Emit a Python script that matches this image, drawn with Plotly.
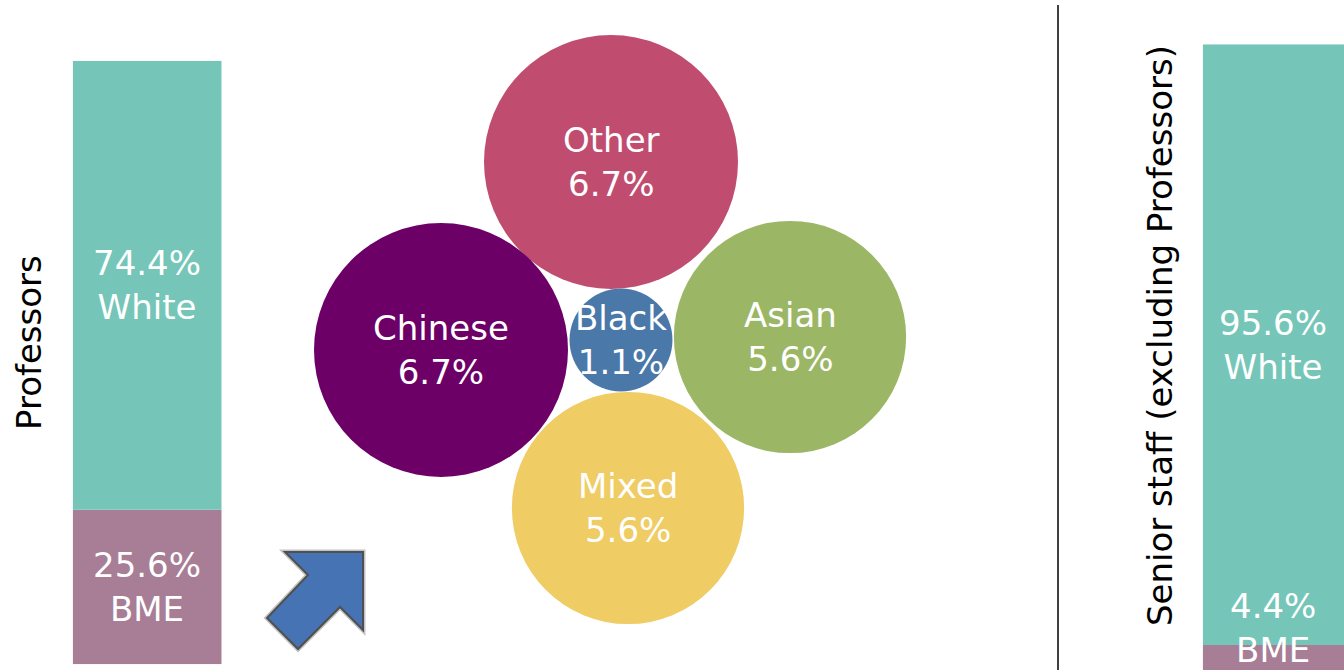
import plotly.graph_objects as go

# Ethnicity split of each staff group (percent)
groups = ["Professors", "Senior staff (excluding Professors)"]
white_pct = [74.4, 95.6]
bme_pct = [25.6, 4.4]

# BME professors broken down by ethnic group (percent of all professors)
bme_groups = ["Other", "Chinese", "Black", "Asian", "Mixed"]
bme_breakdown = [6.7, 6.7, 1.1, 5.6, 5.6]

# Packed-bubble layout (canvas pixels)
bubble_x = [611, 441, 621, 790, 628]
bubble_y = [162, 350, 340, 337, 508]
bubble_colors = ["#C04C6F", "#6C0066", "#4A78A9", "#9BB766", "#EFCC64"]

W, H = 1344, 670
TEAL = "#75C6B8"
MAUVE = "#A87D96"
FONT = "DejaVu Sans"
LBL = 34

fig = go.Figure()

# --- bubbles (area proportional to share) ---
max_diam = 254
fig.add_trace(go.Scatter(
    x=bubble_x, y=bubble_y, mode="markers",
    marker=dict(size=bme_breakdown, sizemode="area",
                sizeref=2.0 * max(bme_breakdown) / max_diam ** 2,
                color=bubble_colors, opacity=1, line=dict(width=0)),
    hoverinfo="skip", showlegend=False,
    xaxis="x", yaxis="y",
))

# --- stacked bars ---
for i, (ax, ay) in enumerate([("x2", "y2"), ("x3", "y3")]):
    fig.add_trace(go.Bar(x=[0], y=[bme_pct[i]], base=[0], width=[1],
                         marker=dict(color=MAUVE, line=dict(width=0)),
                         hoverinfo="skip", showlegend=False, xaxis=ax, yaxis=ay))
    fig.add_trace(go.Bar(x=[0], y=[white_pct[i]], base=[bme_pct[i]], width=[1],
                         marker=dict(color=TEAL, line=dict(width=0)),
                         hoverinfo="skip", showlegend=False, xaxis=ax, yaxis=ay))

senior_ymin = (672.6 - H) / 6.283

annotations = []
lbl_font = dict(family=FONT, size=LBL, color="#FFFFFF")

# Bubble labels
for g, v, bx, by in zip(bme_groups, bme_breakdown, bubble_x, bubble_y):
    annotations.append(dict(xref="x", yref="y", x=bx, y=by,
                            text=f"{g}<br>{v}%", showarrow=False, font=lbl_font))

# Professors bar labels, centred in each segment
annotations.append(dict(xref="x2", yref="y2", x=0, y=bme_pct[0] + white_pct[0] / 2,
                        text=f"{white_pct[0]}%<br>White", showarrow=False, font=lbl_font))
annotations.append(dict(xref="x2", yref="y2", x=0, y=bme_pct[0] / 2,
                        text=f"{bme_pct[0]}%<br>BME", showarrow=False, font=lbl_font))
# Senior staff bar labels
annotations.append(dict(xref="x3", yref="y3", x=0, y=bme_pct[1] + white_pct[1] / 2,
                        text=f"{white_pct[1]}%<br>White", showarrow=False, font=lbl_font))
annotations.append(dict(xref="x3", yref="y3", x=0, y=senior_ymin, yanchor="bottom", yshift=-2,
                        text=f"{bme_pct[1]}%<br>BME", showarrow=False, font=lbl_font))

# Group titles (rotated)
annotations.append(dict(xref="x", yref="y", x=29, y=343, text=groups[0], textangle=-90,
                        showarrow=False, font=dict(family=FONT, size=LBL, color="#000000")))
annotations.append(dict(xref="x", yref="y", x=1160, y=336, text=groups[1], textangle=-90,
                        showarrow=False, font=dict(family=FONT, size=LBL, color="#000000")))

shapes = [
    # divider between the two groups
    dict(type="line", xref="x", yref="y", x0=1058, x1=1058, y0=5, y1=H,
         line=dict(color="#000000", width=1.5)),
    # soft shadow under the arrow
    dict(type="path", xref="x", yref="y",
         path="M 285 552 L 363 552 L 363 630 L 340 607 L 298 649 L 267 618 L 308 575 Z",
         fillcolor="rgba(0,0,0,0)", line=dict(color="rgba(80,80,80,0.35)", width=5)),
    # arrow pointing up-right towards the breakdown
    dict(type="path", xref="x", yref="y",
         path="M 285 552 L 363 552 L 363 630 L 340 607 L 298 649 L 267 618 L 308 575 Z",
         fillcolor="#4573B3", line=dict(color="#505050", width=2)),
]

hidden = dict(visible=False, showgrid=False, zeroline=False, fixedrange=True)

fig.update_layout(
    width=W, height=H,
    margin=dict(l=0, r=0, t=0, b=0),
    paper_bgcolor="#FFFFFF", plot_bgcolor="rgba(0,0,0,0)",
    barmode="overlay",
    showlegend=False,
    xaxis=dict(domain=[0, 1], range=[0, W], **hidden),
    yaxis=dict(domain=[0, 1], range=[H, 0], **hidden),
    xaxis2=dict(domain=[72.7 / W, 221.7 / W], range=[-0.5, 0.5], anchor="y2", **hidden),
    yaxis2=dict(domain=[(H - 664.3) / H, (H - 60.7) / H], range=[0, 100], anchor="x2", **hidden),
    xaxis3=dict(domain=[1202.7 / W, 1.0], range=[-0.5, 0.5], anchor="y3", **hidden),
    yaxis3=dict(domain=[0, (H - 44.3) / H], range=[senior_ymin, 100], anchor="x3", **hidden),
    annotations=annotations,
    shapes=shapes,
)

fig.write_html("out.html")
